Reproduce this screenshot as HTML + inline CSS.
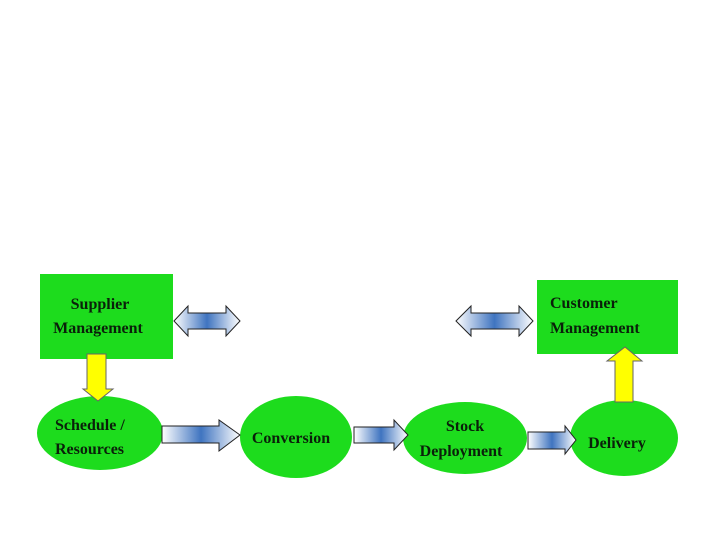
<!DOCTYPE html>
<html><head><style>
body{margin:0;background:#fff;width:720px;height:540px;overflow:hidden}
svg text{font-family:"Liberation Serif",serif;font-weight:bold;font-size:16px;fill:#0a200a}
</style></head><body>
<svg width="720" height="540" viewBox="0 0 720 540">
<defs>
<linearGradient id="g" x1="0" x2="1" y1="0" y2="0">
<stop offset="0" stop-color="#fff"/><stop offset="0.5" stop-color="#3f74c0"/><stop offset="1" stop-color="#fff"/>
</linearGradient>
</defs>
<rect x="40" y="274" width="133" height="85" fill="#1ddc1d"/>
<rect x="537" y="280" width="141" height="74" fill="#1ddc1d"/>
<ellipse cx="100" cy="433" rx="63" ry="37" fill="#1ddc1d"/>
<ellipse cx="296" cy="437" rx="56" ry="41" fill="#1ddc1d"/>
<ellipse cx="465" cy="438" rx="62" ry="36" fill="#1ddc1d"/>
<ellipse cx="624" cy="438" rx="54" ry="38" fill="#1ddc1d"/>
<g stroke="#222" stroke-width="1" fill="url(#g)">
<polygon points="162,426 219,426 219,420 240,435 219,451 219,443 162,443"/>
<polygon points="354,427 394,427 394,420 408,435 394,450 394,443 354,443"/>
<polygon points="528,432 565,432 565,426 576,440 565,454 565,449 528,449"/>
<polygon points="174,321 188,306 188,313 226,313 226,306 240,321 226,336 226,329 188,329 188,336"/>
<polygon points="456,321 471,306 471,313 519,313 519,306 533,321 519,336 519,329 471,329 471,336"/>
</g>
<g stroke="#666" stroke-width="1" fill="#ffff00">
<polygon points="87,354 106,354 106,389 113,389 98,401 83,389 87,389"/>
<polygon points="615,402 633,402 633,361 642,361 625,347 607,361 615,361"/>
</g>
<text x="100" y="309" text-anchor="middle">Supplier</text>
<text x="98" y="333" text-anchor="middle">Management</text>
<text x="550" y="308">Customer</text>
<text x="550" y="333">Management</text>
<text x="55" y="430">Schedule /</text>
<text x="55" y="454">Resources</text>
<text x="291" y="443" text-anchor="middle">Conversion</text>
<text x="465" y="431" text-anchor="middle">Stock</text>
<text x="461" y="456" text-anchor="middle">Deployment</text>
<text x="617" y="448" text-anchor="middle">Delivery</text>
</svg>
</body></html>
